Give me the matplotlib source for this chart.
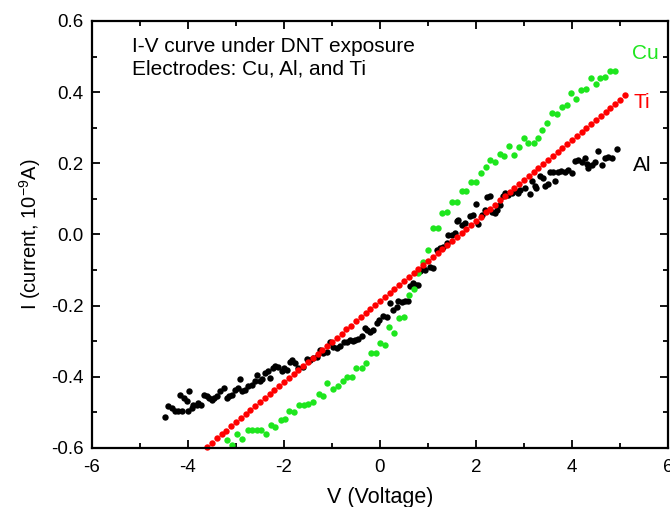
import matplotlib
matplotlib.use('Agg')
import matplotlib.pyplot as plt
from matplotlib.ticker import MultipleLocator

plt.rcParams['font.family'] = ['Liberation Sans', 'DejaVu Sans']
plt.rcParams['mathtext.fontset'] = 'custom'
plt.rcParams['mathtext.rm'] = 'Liberation Sans'
plt.rcParams['mathtext.it'] = 'Liberation Sans:italic'

# Al electrode (black)
al_v = [-4.47, -4.41, -4.34, -4.27, -4.20, -4.17, -4.12, -4.08, -4.03, -3.99,
        -3.97, -3.92, -3.89, -3.82, -3.79, -3.72, -3.66, -3.61, -3.56, -3.51,
        -3.45, -3.40, -3.33, -3.26, -3.19, -3.15, -3.09, -3.02, -2.95, -2.92,
        -2.87, -2.81, -2.74, -2.67, -2.60, -2.57, -2.50, -2.45, -2.40, -2.33,
        -2.29, -2.22, -2.19, -2.12, -2.05, -2.01, -1.94, -1.875, -1.84, -1.77,
        -1.70, -1.60, -1.53, -1.46, -1.39, -1.32, -1.25, -1.18, -1.11, -1.04,
        -0.97, -0.90, -0.83, -0.76, -0.69, -0.625, -0.56, -0.52, -0.45, -0.38,
        -0.31, -0.28, -0.21, -0.14, -0.06, -0.015, 0.07, 0.14, 0.21, 0.28,
        0.35, 0.38, 0.45, 0.52, 0.59, 0.625, 0.69, 0.76, 0.80, 0.83,
        0.90, 0.94, 1.04, 1.11, 1.18, 1.25, 1.32, 1.39, 1.42, 1.49,
        1.56, 1.60, 1.63, 1.70, 1.77, 1.875, 1.94, 2.01, 2.05, 2.12,
        2.19, 2.22, 2.29, 2.33, 2.40, 2.43, 2.50, 2.57, 2.60, 2.67,
        2.74, 2.81, 2.88, 2.92, 3.02, 3.125, 3.16, 3.23, 3.26, 3.33,
        3.40, 3.44, 3.51, 3.54, 3.61, 3.65, 3.71, 3.78, 3.85, 3.92,
        3.99, 4.06, 4.13, 4.20, 4.27, 4.31, 4.34, 4.41, 4.48, 4.55,
        4.62, 4.69, 4.76, 4.83, 4.93]
al_i = [-0.513, -0.483, -0.488, -0.495, -0.497, -0.451, -0.495, -0.460, -0.469, -0.495,
        -0.441, -0.488, -0.479, -0.479, -0.474, -0.479, -0.451, -0.455, -0.460, -0.465,
        -0.460, -0.455, -0.441, -0.432, -0.460, -0.455, -0.451, -0.437, -0.432, -0.407,
        -0.441, -0.437, -0.427, -0.422, -0.413, -0.394, -0.413, -0.405, -0.390, -0.385,
        -0.404, -0.376, -0.369, -0.371, -0.385, -0.376, -0.382, -0.357, -0.354, -0.361,
        -0.376, -0.371, -0.350, -0.352, -0.347, -0.343, -0.324, -0.333, -0.329, -0.301,
        -0.315, -0.319, -0.313, -0.301, -0.301, -0.296, -0.298, -0.296, -0.293, -0.285,
        -0.263, -0.268, -0.273, -0.268, -0.249, -0.240, -0.229, -0.232, -0.193, -0.212,
        -0.203, -0.188, -0.190, -0.188, -0.188, -0.146, -0.137, -0.142, -0.142, -0.104,
        -0.095, -0.099, -0.090, -0.095, -0.043, -0.037, -0.034, -0.025, -0.001, -0.001,
        0.004, 0.038, 0.041, 0.027, 0.032, 0.053, 0.055, 0.085, 0.029, 0.055,
        0.069, 0.104, 0.107, 0.064, 0.060, 0.069, 0.083, 0.107, 0.116, 0.111,
        0.116, 0.121, 0.116, 0.125, 0.130, 0.113, 0.149, 0.135, 0.130, 0.163,
        0.158, 0.137, 0.141, 0.175, 0.175, 0.149, 0.177, 0.179, 0.175, 0.181,
        0.172, 0.207, 0.210, 0.205, 0.216, 0.197, 0.186, 0.194, 0.203, 0.235,
        0.196, 0.214, 0.219, 0.214, 0.240]

# Cu electrode (green)
cu_v = [-3.18, -3.08, -2.97, -2.87, -2.76, -2.66, -2.56, -2.47, -2.37, -2.28,
        -2.18, -2.07, -1.98, -1.89, -1.79, -1.69, -1.59, -1.49, -1.39, -1.28,
        -1.18, -1.10, -0.98, -0.88, -0.78, -0.69, -0.58, -0.49, -0.38, -0.29,
        -0.19, -0.09, 0.00, 0.10, 0.19, 0.30, 0.40, 0.51, 0.60, 0.70,
        0.80, 0.90, 1.00, 1.10, 1.20, 1.30, 1.40, 1.50, 1.60, 1.70,
        1.80, 1.90, 2.00, 2.10, 2.20, 2.30, 2.40, 2.50, 2.59, 2.69,
        2.79, 2.89, 2.99, 3.09, 3.20, 3.29, 3.38, 3.48, 3.58, 3.68,
        3.79, 3.89, 3.98, 4.08, 4.19, 4.29, 4.39, 4.49, 4.59, 4.69,
        4.79, 4.89]
cu_i = [-0.577, -0.591, -0.561, -0.574, -0.549, -0.549, -0.549, -0.549, -0.560, -0.535,
        -0.540, -0.521, -0.519, -0.497, -0.500, -0.479, -0.479, -0.476, -0.470, -0.449,
        -0.453, -0.416, -0.434, -0.425, -0.411, -0.401, -0.401, -0.374, -0.374, -0.362,
        -0.334, -0.334, -0.306, -0.310, -0.261, -0.277, -0.235, -0.232, -0.171, -0.152,
        -0.107, -0.076, -0.045, 0.019, 0.019, 0.061, 0.063, 0.092, 0.092, 0.122,
        0.122, 0.147, 0.147, 0.174, 0.189, 0.210, 0.204, 0.225, 0.221, 0.250,
        0.224, 0.246, 0.270, 0.256, 0.258, 0.270, 0.295, 0.313, 0.342, 0.339,
        0.358, 0.364, 0.399, 0.381, 0.406, 0.408, 0.439, 0.423, 0.439, 0.442,
        0.460, 0.460]

# Ti electrode (red)
ti_v = [-3.6, -3.5, -3.4, -3.3, -3.2, -3.1, -3.0, -2.9, -2.8, -2.7,
        -2.6, -2.5, -2.4, -2.3, -2.2, -2.1, -2.0, -1.9, -1.8, -1.7,
        -1.6, -1.5, -1.4, -1.3, -1.2, -1.1, -1.0, -0.9, -0.8, -0.7,
        -0.6, -0.5, -0.4, -0.3, -0.2, -0.1, 0.0, 0.1, 0.2, 0.3,
        0.4, 0.5, 0.6, 0.7, 0.8, 0.9, 1.0, 1.1, 1.2, 1.3,
        1.4, 1.5, 1.6, 1.7, 1.8, 1.9, 2.0, 2.1, 2.2, 2.3,
        2.4, 2.5, 2.6, 2.7, 2.8, 2.9, 3.0, 3.1, 3.2, 3.3,
        3.4, 3.5, 3.6, 3.7, 3.8, 3.9, 4.0, 4.1, 4.2, 4.3,
        4.4, 4.5, 4.6, 4.7, 4.8, 4.9, 5.0, 5.1]
ti_i = [-0.596, -0.585, -0.573, -0.562, -0.551, -0.539, -0.528, -0.517, -0.505, -0.494,
        -0.483, -0.471, -0.460, -0.449, -0.437, -0.426, -0.415, -0.403, -0.392, -0.381,
        -0.369, -0.358, -0.347, -0.335, -0.324, -0.313, -0.301, -0.290, -0.279, -0.267,
        -0.256, -0.244, -0.233, -0.222, -0.210, -0.199, -0.188, -0.176, -0.165, -0.154,
        -0.142, -0.131, -0.120, -0.108, -0.097, -0.086, -0.074, -0.063, -0.052, -0.040,
        -0.029, -0.018, -0.006, 0.005, 0.016, 0.028, 0.039, 0.050, 0.062, 0.073,
        0.084, 0.096, 0.107, 0.118, 0.130, 0.141, 0.152, 0.164, 0.175, 0.186,
        0.198, 0.209, 0.220, 0.232, 0.243, 0.254, 0.266, 0.277, 0.288, 0.300,
        0.311, 0.322, 0.334, 0.345, 0.356, 0.368, 0.379, 0.391]

fig = plt.figure(figsize=(6.7, 5.07), dpi=100)
ax = fig.add_axes([0.1373, 0.1164, 0.8597, 0.8422])

green = '#1ee61e'
red = '#ff0000'
ms = 4.6
ax.plot(al_v, al_i, 'o', color='black', ms=ms, mew=0, clip_on=False)
ax.plot(cu_v, cu_i, 'o', color=green, ms=ms, mew=0, clip_on=False)
ax.plot(ti_v, ti_i, 'o', color=red, ms=ms, mew=0, clip_on=False)

ax.set_xlim(-6, 6)
ax.set_ylim(-0.6, 0.6)
ax.xaxis.set_major_locator(MultipleLocator(2))
ax.xaxis.set_minor_locator(MultipleLocator(1))
ax.yaxis.set_major_locator(MultipleLocator(0.2))
ax.yaxis.set_minor_locator(MultipleLocator(0.1))
ax.yaxis.set_major_formatter(plt.FuncFormatter(lambda v, p: f'{v:.1f}'))
ax.xaxis.set_major_formatter(plt.FuncFormatter(lambda v, p: f'{v:.0f}'))

ax.tick_params(which='both', direction='in', top=True, right=True, width=1.3,
               labelsize=13.5, colors='black')
ax.tick_params(which='major', length=6, pad=6)
ax.tick_params(axis='x', which='major', pad=8)
ax.tick_params(which='minor', length=3.5)
for s in ax.spines.values():
    s.set_linewidth(1.6)

ax.set_xlabel('V (Voltage)', fontsize=15.5, labelpad=8)
ax.set_ylabel('I (current, 10$^{-9}$A)', fontsize=14.5, labelpad=6)

ax.text(0.07, 0.962, 'I-V curve under DNT exposure\nElectrodes: Cu, Al, and Ti',
        transform=ax.transAxes, fontsize=15, va='top', ha='left', linespacing=1.2)

ax.text(5.25, 0.51, 'Cu', color=green, fontsize=15, va='center')
ax.text(5.28, 0.37, 'Ti', color=red, fontsize=15, va='center')
ax.text(5.28, 0.195, 'Al', color='black', fontsize=15, va='center')

fig.savefig('out.png', dpi=100)
